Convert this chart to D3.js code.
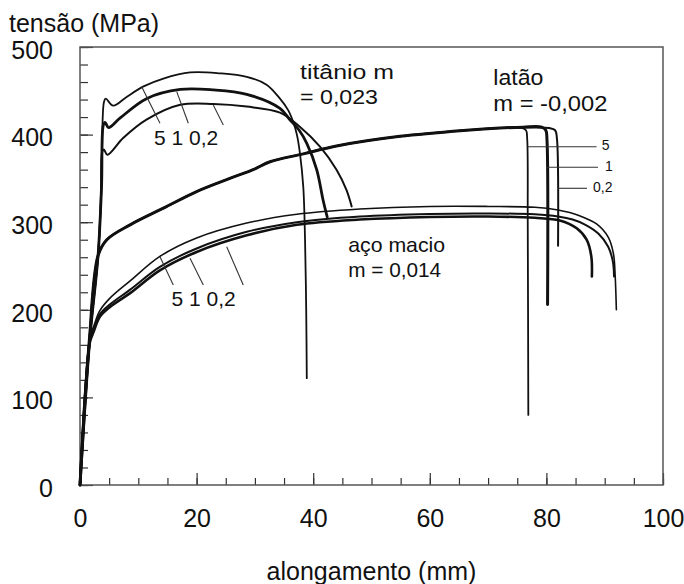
<!DOCTYPE html>
<html><head><meta charset="utf-8">
<script src="https://cdn.jsdelivr.net/npm/d3@7"></script>
<style>body{margin:0;background:#fff}svg{display:block}text{font-family:"Liberation Sans",Arial,sans-serif;fill:#111}</style>
</head><body><svg id="c" width="684" height="584"></svg>
<script>
// ---- data: [alongamento mm, tensão MPa] ----
const titanio5 = [[0,0],[1.7,168],[3.1,262],[3.7,342],[4.1,437],[4.4,441],[5.7,433],[8.0,443],[10.9,455],[14.3,464],[18.9,471],[24.0,470],[28.6,466],[32.0,457],[34.3,441],[35.7,428],[36.6,414],[37.2,400],[37.7,380],[38.3,340],[38.6,280],[38.8,200],[38.9,122]];
const titanio1 = [[0,0],[1.7,168],[3.1,262],[3.7,342],[4.0,411],[4.3,414],[4.9,408],[6.9,419],[11.4,441],[17.2,451.5],[22.9,451],[28.6,446],[34.3,430],[36.0,417],[37.6,405],[38.9,390],[40.6,360],[41.7,325],[42.4,306]];
const titanio02 = [[0,0],[1.7,168],[3.1,262],[3.6,330],[3.8,380],[4.1,383],[4.7,377],[7.4,396],[11.4,417],[17.2,434],[22.9,435],[28.6,432],[34.3,425],[37.7,409],[41.2,386],[44.0,360],[45.7,337],[46.6,318]];
const latao5 = [[0,0],[1.6,165],[3.1,262],[4.6,280],[8.6,297],[14.3,316],[20,335],[25.7,350],[29.7,360],[32.6,369],[38.3,378],[44,387],[54.9,398],[66.3,405],[72,407.5],[75.6,408],[76.5,405],[76.7,396],[76.8,300],[76.9,80]];
const latao1 = [[0,0],[1.6,165],[3.1,262],[4.6,280],[8.6,297],[14.3,316],[20,335],[25.7,350],[29.7,360],[32.6,369],[38.3,378],[44,387],[54.9,398],[66.3,405],[72,407.5],[76,408.5],[79.2,408.5],[79.9,405],[80.1,394],[80.2,206]];
const latao02 = [[0,0],[1.6,165],[3.1,262],[4.6,280],[8.6,297],[14.3,316],[20,335],[25.7,350],[29.7,360],[32.6,369],[38.3,378],[44,387],[54.9,398],[66.3,405],[72,407.5],[76,408],[80.5,407.5],[81.5,405],[81.8,396],[82.0,273]];
const aco5 = [[0,0],[1.0,120],[1.7,168],[2.4,182],[3.4,199],[5.1,213],[8.6,233],[13.7,261],[20,282],[28.6,299],[37.2,309],[48,315],[60,318],[70,318],[78,317],[82,314],[84,311],[85.8,307],[88.6,298],[90.6,283],[91.5,264],[91.8,238],[92.0,200]];
const aco1 = [[0,0],[1.0,118],[1.7,165],[2.4,178],[3.4,195],[5.1,206],[8.6,223],[13.7,249],[20,270],[28.6,289],[37.2,300],[48,306.5],[60,309.5],[70,310],[78,309],[82,306.5],[84.5,303],[86.7,297],[88.9,287],[90.6,272],[91.4,255],[91.6,238]];
const aco02 = [[0,0],[1.0,116],[1.7,163],[2.4,176],[3.4,192],[5.1,203],[8.6,219],[13.7,245],[20,266],[28.6,285],[37.2,297],[48,303],[60,306],[70,306.5],[78,305],[82.3,302],[85.2,293],[86.9,280],[87.7,261],[87.8,238]];
const xTicks = [0,20,40,60,80,100];
const yTicks = [0,100,200,300,400,500];

// ---- chart ----
const svg = d3.select("#c");
const x = d3.scaleLinear([0,100],[80,663]);
const y = d3.scaleLinear([0,500],[485,47]);

// minor ticks
svg.append("g").attr("transform",`translate(${x(0)},0)`)
  .call(d3.axisLeft(y).tickValues(d3.range(0,501,20)).tickSize(-8).tickFormat(""))
  .call(g=>g.select(".domain").remove());
svg.append("g").attr("transform",`translate(0,${y(0)})`)
  .call(d3.axisBottom(x).tickValues(d3.range(0,101,5)).tickSize(-7).tickFormat(""))
  .call(g=>g.select(".domain").remove());
// major ticks + labels
const ya = svg.append("g").attr("transform",`translate(${x(0)},0)`)
  .call(d3.axisLeft(y).tickValues(yTicks).tickSize(-13).tickPadding(27))
  .call(g=>g.select(".domain").remove());
ya.selectAll("text").attr("font-size",25).attr("dy","0.45em").style("font-family",null);
const xa = svg.append("g").attr("transform",`translate(0,${y(0)})`)
  .call(d3.axisBottom(x).tickValues(xTicks).tickSize(-12).tickPadding(24))
  .call(g=>g.select(".domain").remove());
xa.selectAll("text").attr("font-size",25).style("font-family",null);
svg.selectAll(".tick line").attr("stroke","#333").attr("stroke-width",1.2);
svg.selectAll(".tick text").attr("fill","#111");

// frame
svg.append("rect").attr("x",x(0)).attr("y",y(500)).attr("width",x(100)-x(0)).attr("height",y(0)-y(500))
  .attr("fill","none").attr("stroke","#555").attr("stroke-width",1.5);

// curves
const line = d3.line().x(d=>x(d[0])).y(d=>y(d[1])).curve(d3.curveCatmullRom.alpha(0.5));
const curves = [
  [aco5,1.6],[aco1,2.0],[aco02,2.6],
  [latao5,1.8],[latao1,3.0],[latao02,2.0],
  [titanio5,1.8],[titanio1,2.8],[titanio02,2.0]
];
svg.append("g").selectAll("path").data(curves).join("path")
  .attr("d",d=>line(d[0])).attr("fill","none").attr("stroke","#111")
  .attr("stroke-width",d=>d[1]).attr("stroke-linejoin","round").attr("stroke-linecap","round");

// leader lines
const leaders = [
  [[10.58,454.7],[13.72,412.9]],[[16.59,449],[18.58,412.9]],[[22.86,433.8],[24.58,411]],
  [[13.72,260.6],[16.0,228.3]],[[18.87,258.8],[21.15,228.3]],[[25.16,272],[28.0,228.3]],
  [[76.8,386.2],[88.6,386.2]],[[80.1,362.7],[88.85,362.7]],[[82.0,338.7],[86.96,338.7]]
];
svg.append("g").selectAll("line").data(leaders).join("line")
  .attr("x1",d=>x(d[0][0])).attr("y1",d=>y(d[0][1])).attr("x2",d=>x(d[1][0])).attr("y2",d=>y(d[1][1]))
  .attr("stroke","#333").attr("stroke-width",1.1);

// texts
const T = (t,mx,my,fs,anchor="start",base="auto")=>svg.append("text").attr("x",x(mx)).attr("y",y(my))
  .attr("font-size",fs).attr("text-anchor",anchor).attr("dominant-baseline",base).text(t);
svg.append("text").attr("x",9).attr("y",32).attr("font-size",25).text("tensão (MPa)");
svg.append("text").attr("x",(x(0)+x(100))/2).attr("y",580).attr("font-size",25).attr("text-anchor","middle").text("alongamento (mm)");
T("titânio m",37.74,463,20).attr("textLength",94).attr("lengthAdjust","spacingAndGlyphs");
T("= 0,023",37.74,435.5,20).attr("textLength",78).attr("lengthAdjust","spacingAndGlyphs");
T("latão",70.9,456.6,22).attr("textLength",50).attr("lengthAdjust","spacingAndGlyphs");
T("m = -0,002",70.9,426.9,22).attr("textLength",114).attr("lengthAdjust","spacingAndGlyphs");
T("aço macio",46.0,266.3,21).attr("textLength",97).attr("lengthAdjust","spacingAndGlyphs");
T("m = 0,014",46.0,237.8,21).attr("textLength",93).attr("lengthAdjust","spacingAndGlyphs");
T("5 1 0,2",12.7,388.1,21).attr("fill","#333");
T("5 1 0,2",15.7,204.3,21).attr("fill","#333");
T("5",89.5,386.2,14,"start","middle");
T("1",90.05,362.7,14,"start","middle");
T("0,2",88.0,338.7,14,"start","middle");
</script></body></html>
